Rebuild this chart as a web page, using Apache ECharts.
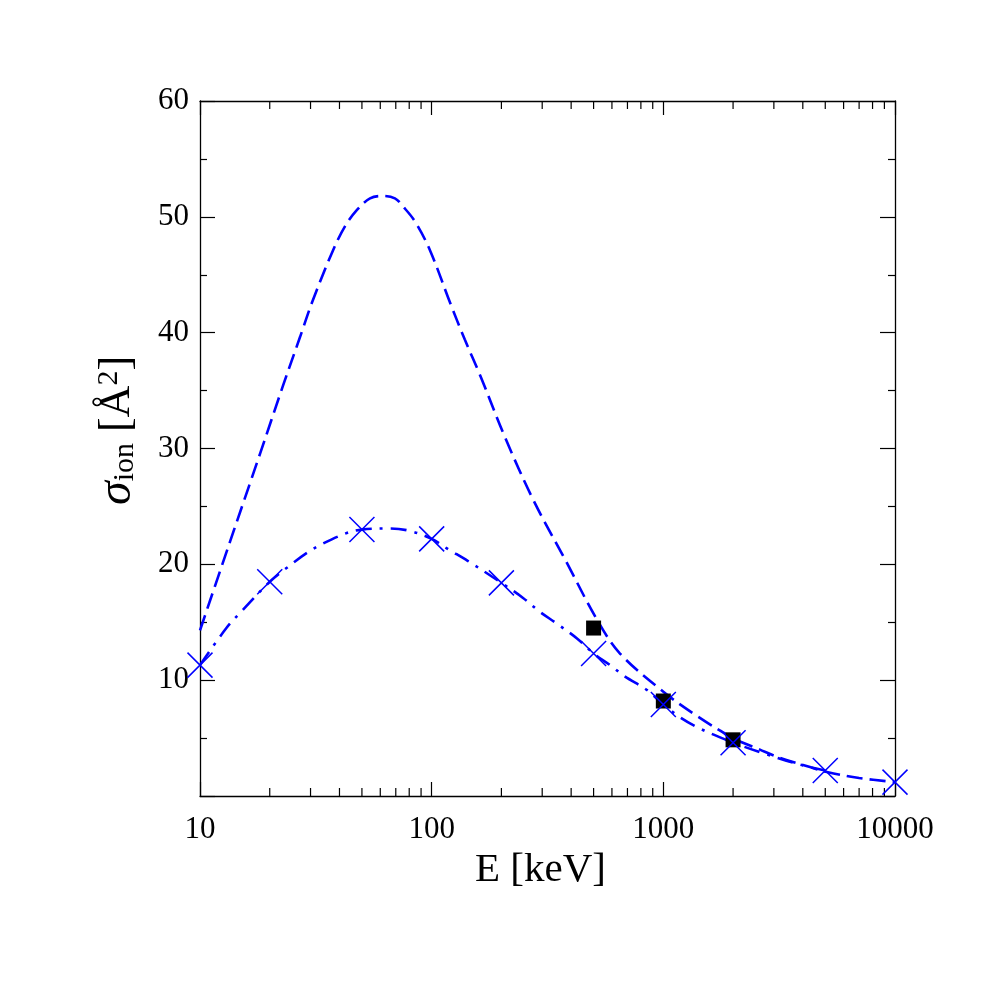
<!DOCTYPE html>
<html><head><meta charset="utf-8">
<script src="https://cdn.jsdelivr.net/npm/echarts@6/dist/echarts.min.js"></script>
<style>html,body{margin:0;padding:0;background:#fff}#c{width:997px;height:997px}</style>
</head><body><div id="c"></div>
<script>
// Dashed curve (long dashes)
const dashedE = [10, 13.5, 18.2, 22.8, 27.0, 30.7, 37.5, 42.3, 47.6, 54.2, 61, 69.4, 75.2, 84.7, 98.4, 120, 139, 162, 207, 274, 384, 518, 650, 1000, 1400, 2000, 2612, 3185, 4296, 5080, 7000, 10000];
const dashedY = [14.3, 22.0, 29.6, 35.4, 39.6, 42.8, 47.1, 49.2, 50.6, 51.6, 51.8, 51.6, 50.9, 49.6, 47.1, 42.6, 39.4, 36.3, 31.0, 25.6, 20.1, 15.2, 12.3, 9.0, 6.9, 5.0, 4.0, 3.3, 2.5, 2.07, 1.55, 1.2];
// Dash-dot curve
const dashDotE = [10, 13, 15.2, 20, 23.7, 29, 34, 43, 50, 66, 80, 100, 118, 143, 200, 248, 293, 346, 424, 500, 589, 684, 850, 1000, 1180, 1394, 1647, 2000, 2695, 3890, 5000];
const dashDotY = [11.3, 14.5, 16.0, 18.5, 19.7, 21.0, 21.8, 22.7, 23.0, 23.1, 22.9, 22.2, 21.3, 20.3, 18.4, 17.1, 15.9, 14.9, 13.6, 12.3, 11.3, 10.3, 9.15, 7.9, 6.8, 5.96, 5.3, 4.6, 3.7, 2.7, 2.2];
// Cross markers
const crossE = [10, 20, 50, 100, 200, 500, 1000, 2000, 5000, 10000];
const crossY = [11.3, 18.5, 23.0, 22.2, 18.4, 12.3, 7.9, 4.6, 2.2, 1.2];
// Square markers
const squareE = [500, 1000, 2000];
const squareY = [14.5, 8.2, 4.85];
// Log-axis minor tick values
const xMinorTicks = [20,30,40,50,60,70,80,90,200,300,400,500,600,700,800,900,2000,3000,4000,5000,6000,7000,8000,9000];
const xMin = 10, xMax = 10000, yMin = 0, yMax = 60;

const zip = (a, b) => a.map((v, i) => [v, b[i]]);
const font = '"Liberation Serif", "Times New Roman", serif';
const blue = '#0000ff';

const chart = echarts.init(document.getElementById('c'), null, {renderer: 'canvas'});
const axisLine = {show: true, onZero: false, lineStyle: {color: '#000', width: 1.3}};
chart.setOption({
  animation: false,
  backgroundColor: '#fff',
  grid: {left: 200, top: 101, right: 102, bottom: 201, containLabel: false},
  xAxis: [{
    type: 'log', logBase: 10, min: xMin, max: xMax, position: 'bottom',
    axisLine: axisLine,
    axisTick: {show: true, inside: true, length: 14, lineStyle: {color: '#000', width: 1.2}},
    axisLabel: {show: true, margin: 18, color: '#000', fontFamily: font, fontSize: 31,
      formatter: v => String(Math.round(v))},
    splitLine: {show: false},
    name: 'E [keV]', nameLocation: 'middle', nameGap: 52,
    nameTextStyle: {color: '#000', fontFamily: font, fontSize: 41, padding: [0, 14, 0, 0]}
  }, {
    type: 'log', logBase: 10, min: xMin, max: xMax, position: 'top',
    axisLine: axisLine,
    axisTick: {show: true, inside: true, length: 14, lineStyle: {color: '#000', width: 1.2}},
    axisLabel: {show: false}, splitLine: {show: false}
  }],
  yAxis: [{
    type: 'value', min: yMin, max: yMax, interval: 10, position: 'left',
    axisLine: axisLine,
    axisTick: {show: true, inside: true, length: 15, lineStyle: {color: '#000', width: 1.2}},
    minorTick: {show: true, splitNumber: 2, length: 7, lineStyle: {color: '#000', width: 1.2}},
    axisLabel: {show: true, margin: 11, color: '#000', fontFamily: font, fontSize: 31,
      formatter: v => v === 0 ? '' : String(v)},
    splitLine: {show: false},
    name: '{s|σ}{sub|ion}{n| [Å}{sup|2}{n|]}',
    nameLocation: 'middle', nameRotate: 90, nameGap: 60,
    nameTextStyle: {
      color: '#000', fontFamily: font, fontSize: 44, padding: [0, 0, 0, 36],
      rich: {
        s: {fontFamily: font, fontSize: 48, fontStyle: 'italic', lineHeight: 46, color: '#000'},
        n: {fontFamily: font, fontSize: 44, lineHeight: 46, color: '#000'},
        sub: {fontFamily: font, fontSize: 30, lineHeight: 28, verticalAlign: 'bottom', color: '#000'},
        sup: {fontFamily: font, fontSize: 30, lineHeight: 28, verticalAlign: 'top', color: '#000'}
      }
    }
  }, {
    type: 'value', min: yMin, max: yMax, interval: 10, position: 'right',
    axisLine: axisLine,
    axisTick: {show: true, inside: true, length: 15, lineStyle: {color: '#000', width: 1.2}},
    minorTick: {show: true, splitNumber: 2, length: 7, lineStyle: {color: '#000', width: 1.2}},
    axisLabel: {show: false}, splitLine: {show: false}
  }],
  series: [
    {
      type: 'custom', xAxisIndex: 0, yAxisIndex: 0, silent: true, clip: false, z: 1,
      data: xMinorTicks.map(v => [v, yMin]),
      renderItem: (params, api) => {
        const v = api.value(0);
        const b = api.coord([v, yMin]);
        const t = api.coord([v, yMax]);
        const st = {stroke: '#000', lineWidth: 1.2};
        return {type: 'group', children: [
          {type: 'line', shape: {x1: b[0], y1: b[1], x2: b[0], y2: b[1] - 8}, style: st},
          {type: 'line', shape: {x1: t[0], y1: t[1], x2: t[0], y2: t[1] + 8}, style: st}
        ]};
      }
    },
    {
      type: 'line', data: zip(dashedE, dashedY), smooth: 0.35, showSymbol: false, clip: false,
      lineStyle: {color: blue, width: 2.6, type: [16, 7]}, z: 3
    },
    {
      type: 'line', data: zip(dashDotE, dashDotY), smooth: 0.35, showSymbol: false, clip: false,
      lineStyle: {color: blue, width: 2.6, type: [16, 8, 3, 8]}, z: 3
    },
    {
      type: 'scatter', data: zip(squareE, squareY), symbol: 'rect', symbolSize: 15,
      itemStyle: {color: '#000', opacity: 1}, z: 4, clip: false
    },
    {
      type: 'scatter', data: zip(crossE, crossY),
      symbol: 'path://M0,0L10,10M10,0L0,10', symbolSize: 25, clip: false,
      itemStyle: {color: 'none', borderColor: blue, borderWidth: 1.5, opacity: 1}, z: 5
    }
  ]
});
</script>
</body></html>
